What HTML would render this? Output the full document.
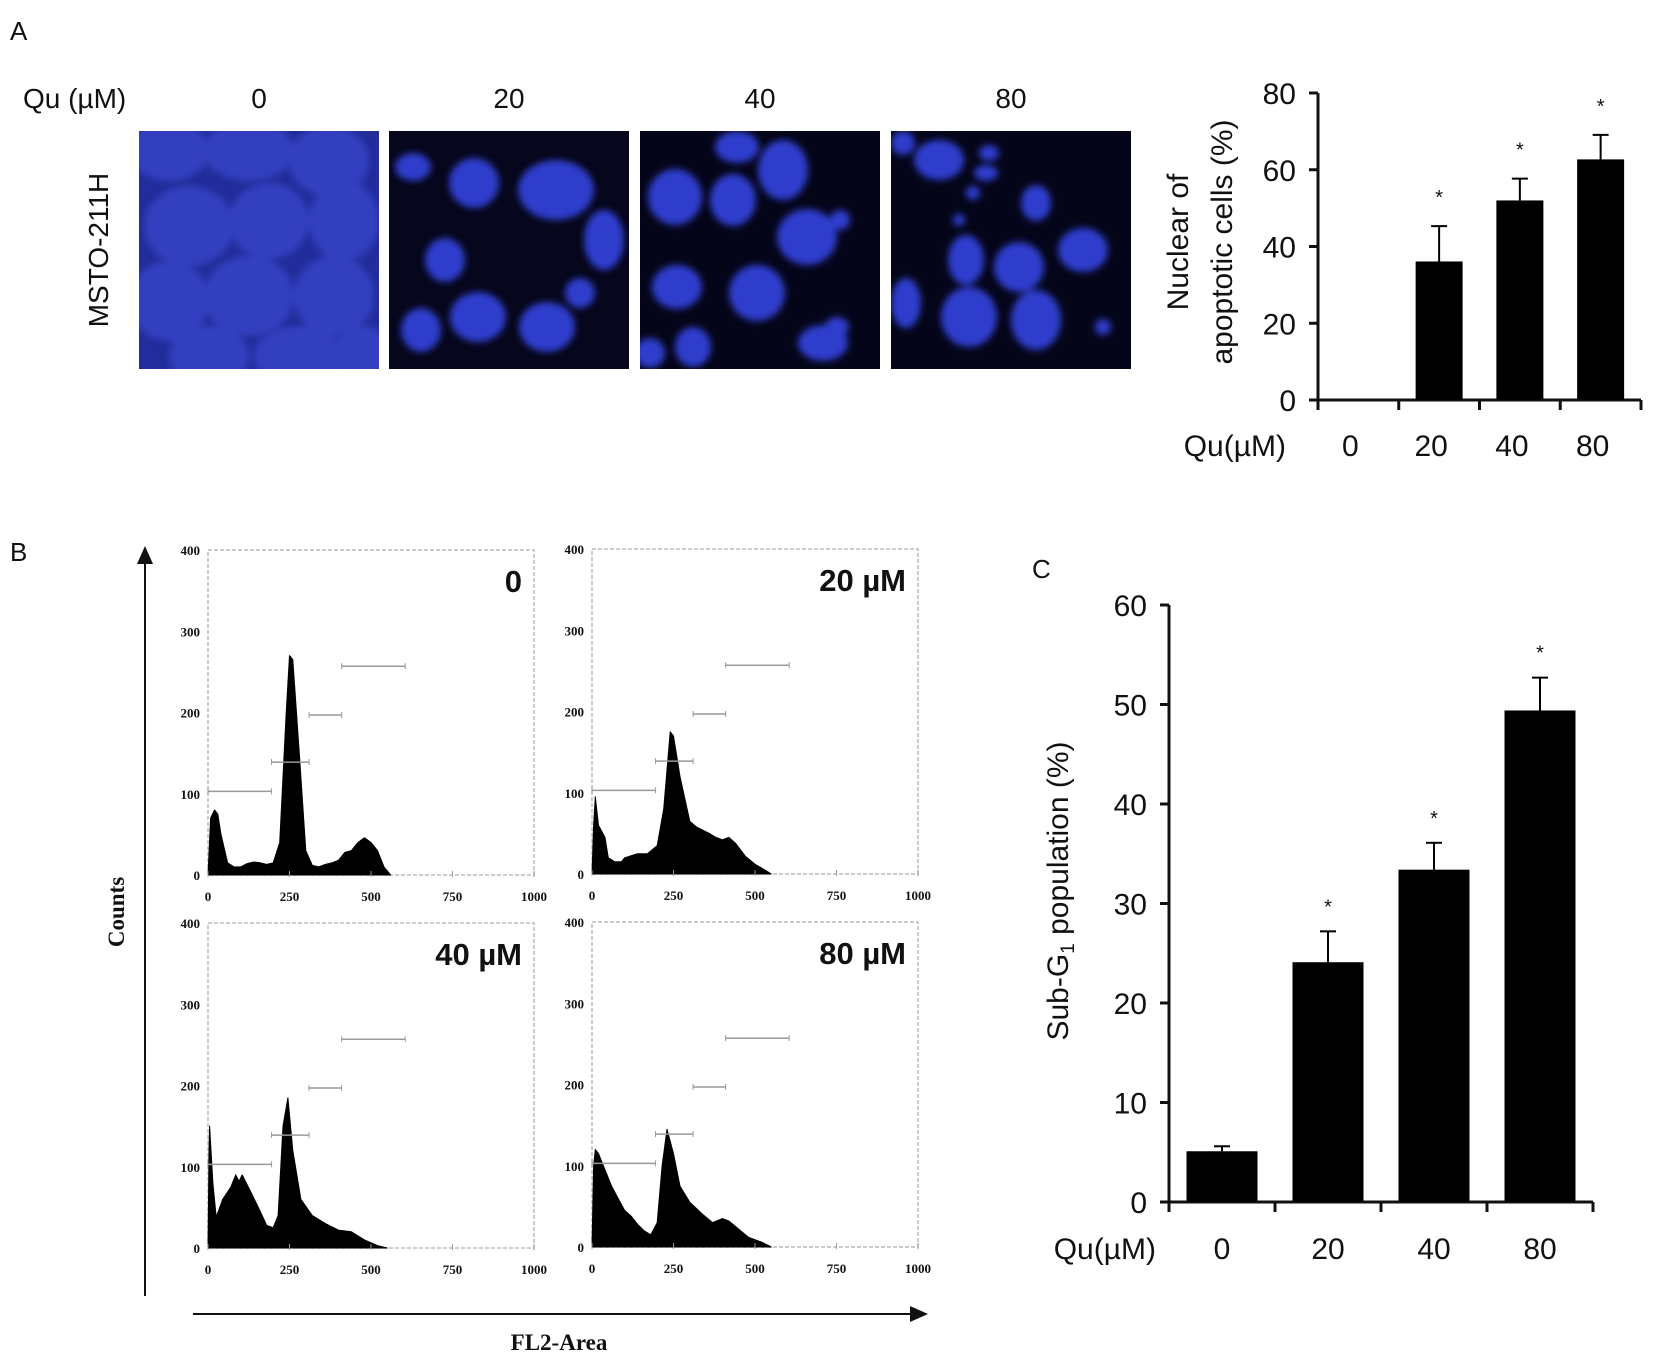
<!DOCTYPE html>
<html><head><meta charset="utf-8"><style>
html,body{margin:0;padding:0;background:#fff;}
svg{display:block;}
text{font-family:"Liberation Sans",Arial,sans-serif;fill:#111;}
.ser{font-family:"Liberation Serif",serif;font-weight:bold;}
</style></head><body>
<svg id="fig" width="1654" height="1366" viewBox="0 0 1654 1366" xmlns="http://www.w3.org/2000/svg">
<defs>
<filter id="blur" x="-20%" y="-20%" width="140%" height="140%"><feGaussianBlur stdDeviation="3.5"/></filter>
<marker id="arr" markerWidth="10" markerHeight="10" refX="8" refY="5" orient="auto"><path d="M0,1 L9,5 L0,9 Z" fill="#111"/></marker>
<clipPath id="c0"><rect x="139" y="131" width="240" height="238"/></clipPath>
<clipPath id="c1"><rect x="389" y="131" width="240" height="238"/></clipPath>
<clipPath id="c2"><rect x="640" y="131" width="240" height="238"/></clipPath>
<clipPath id="c3"><rect x="891" y="131" width="240" height="238"/></clipPath>
</defs>
<text x="10" y="40" font-size="26">A</text>
<text x="10" y="561" font-size="26">B</text>
<text x="1032" y="578" font-size="26">C</text>
<g id="panelA"></g>
<g id="chartA"></g>
<g id="panelB"></g>
<g id="chartC"></g>
</svg>
<script>
// ---- Panel A bar chart data ----
const aCategories = ["0","20","40","80"];
const aValues = [0, 36.1, 52, 62.7];
const aErrors = [0, 9.2, 5.7, 6.4];
const aStars = [false, true, true, true];
const aTicks = [0,20,40,60,80];
// ---- Panel C bar chart data ----
const cCategories = ["0","20","40","80"];
const cValues = [5.1, 24.1, 33.4, 49.4];
const cErrors = [0.5, 3.1, 2.7, 3.3];
const cStars = [false, true, true, true];
const cTicks = [0,10,20,30,40,50,60];
// ---- Panel B histogram data ----
const hLabels = ["0","20 µM","40 µM","80 µM"];
const h0x = [0,8,20,30,40,60,80,100,120,140,160,180,200,220,240,250,260,280,300,320,340,360,380,400,420,440,460,480,500,520,540,560];
const h0y = [0,70,80,75,50,15,10,10,14,16,15,13,15,40,200,270,265,150,30,12,10,13,15,18,28,30,40,46,40,30,10,0];
const h1x = [0,5,10,20,40,50,70,90,100,140,170,200,220,240,250,270,300,320,360,380,400,420,440,470,500,530,550];
const h1y = [0,60,95,60,45,20,15,15,20,25,25,35,80,175,170,120,65,58,50,45,42,45,38,22,12,5,0];
const h2x = [0,3,5,15,25,45,70,85,95,105,130,160,180,200,215,230,245,260,285,320,360,400,440,480,520,550];
const h2y = [0,120,150,80,38,60,75,90,82,90,70,45,28,25,40,150,185,120,60,40,30,22,20,10,3,0];
const h3x = [0,5,10,20,40,60,80,100,120,140,160,180,200,215,230,250,270,300,340,370,400,420,450,480,520,550];
const h3y = [0,100,120,115,95,75,60,45,38,28,20,15,30,100,145,115,75,55,40,30,35,32,22,12,6,0];
const gateStart = [0,195,310,410];
const gateEnd = [195,310,410,605];
const gateLevel = [103,139,197,257];
const hTicksY = [0,100,200,300,400];
const hTicksX = [0,250,500,750,1000];

const NS="http://www.w3.org/2000/svg";
function mk(tag,attrs,parent,txt){const e=document.createElementNS(NS,tag);for(const k in attrs)e.setAttribute(k,attrs[k]);if(txt!==undefined)e.textContent=txt;parent.appendChild(e);return e;}

// ---- Panel A images ----
const gA=document.getElementById('panelA');
const t0=mk('text',{x:23,y:108,'font-size':28},gA,'Qu (µM)');


const imgX=[139,389,640,891], imgW=240, imgY=131, imgH=238;
const imgBg=["#222c9a","#06061c","#05051a","#05051a"];
const cells=[
 [[30,20,40,30],[110,20,45,30],[190,30,40,35],[50,95,45,40],[130,90,40,38],[205,90,35,40],[30,170,40,40],[110,165,45,40],[195,165,40,40],[70,225,40,30],[160,225,45,30],[225,225,30,30]],
 [[24,36,18,14],[85,52,25,25],[167,59,38,30],[215,109,20,30],[56,129,20,22],[191,162,15,15],[89,186,28,25],[32,199,20,22],[158,196,28,25]],
 [[97,16,22,16],[35,66,27,28],[93,69,23,26],[143,39,25,30],[167,106,30,28],[200,89,10,10],[37,156,25,22],[117,162,28,28],[53,216,18,20],[10,222,15,15],[183,212,25,18],[197,196,12,10]],
 [[12,12,12,12],[48,29,25,20],[98,22,10,8],[95,42,12,8],[82,62,7,7],[68,89,6,6],[145,72,15,18],[75,129,18,25],[128,136,25,25],[192,119,25,22],[15,172,15,25],[78,186,28,30],[145,189,25,30],[212,196,8,8]]
];
const concLabels=["0","20","40","80"];
for(let i=0;i<4;i++){
  const g=mk('g',{'clip-path':'url(#c'+i+')'},gA);
  
  
  mk('rect',{x:imgX[i],y:imgY,width:imgW,height:imgH,fill:imgBg[i]},g);
  const cg=mk('g',{filter:'url(#blur)'},g);
  cells[i].forEach(c=>mk('ellipse',{cx:imgX[i]+c[0],cy:imgY+c[1],rx:c[2],ry:c[3],fill:i==0?'#3040c0':'#2f3ecc'},cg));
  const t=mk('text',{x:imgX[i]+imgW/2,y:108,'font-size':28,'text-anchor':'middle'},gA,concLabels[i]);
  
  
}
const cl=mk('text',{x:0,y:0,'font-size':28,'text-anchor':'middle',transform:'translate(108,250) rotate(-90)'},gA,'MSTO-211H');



// ---- generic bar chart ----
function barChart(g,o){
  const yS=v=>o.y0-(v-o.min)/(o.max-o.min)*(o.y0-o.yTop);
  const n=o.cats.length, step=(o.xEnd-o.ax)/n;
  const xC=i=>o.ax+step*(i+0.5);
  mk('line',{x1:o.ax,y1:o.yTop,x2:o.ax,y2:o.y0,stroke:'#111','stroke-width':3},g);
  mk('line',{x1:o.ax,y1:o.y0,x2:o.xEnd,y2:o.y0,stroke:'#111','stroke-width':3},g);
  o.ticks.forEach(t=>{
    mk('line',{x1:o.ax-9,y1:yS(t),x2:o.ax,y2:yS(t),stroke:'#111','stroke-width':3},g);
    const tl=mk('text',{x:o.ax-22,y:yS(t)+11,'font-size':o.fs,'text-anchor':'end'},g,String(t));
    
    
  });
  for(let i=0;i<=n;i++) mk('line',{x1:o.ax+step*i,y1:o.y0,x2:o.ax+step*i,y2:o.y0+10,stroke:'#111','stroke-width':3},g);
  o.cats.forEach((c,i)=>{
    const bx=xC(i)+o.off-o.bw/2;
    if(o.vals[i]>0){
      const b=mk('rect',{x:bx,y:yS(o.vals[i]),width:o.bw,height:o.y0-yS(o.vals[i]),fill:'#000'},g);
      
      
      const cx=xC(i)+o.off, et=yS(o.vals[i]+o.errs[i]);
      mk('line',{x1:cx,y1:yS(o.vals[i]),x2:cx,y2:et,stroke:'#000','stroke-width':2},g);
      mk('line',{x1:cx-8,y1:et,x2:cx+8,y2:et,stroke:'#000','stroke-width':2},g);
      if(o.stars[i]){
        const s=mk('text',{x:cx,y:et-o.starGap,'font-size':20,'text-anchor':'middle',fill:'#333'},g,'*');
        
        
      }
    }
    const xl=mk('text',{x:xC(i)+o.labOff,y:o.labY,'font-size':o.fs,'text-anchor':'middle'},g,c);
    
    
  });
  const q=mk('text',{x:o.quX,y:o.labY,'font-size':o.fs,'text-anchor':'end'},g,'Qu(µM)');
  
  
}
const gAc=document.getElementById('chartA');
barChart(gAc,{cats:aCategories,vals:aValues,errs:aErrors,stars:aStars,ticks:aTicks,min:0,max:80,
  ax:1318,xEnd:1641,y0:400,yTop:93,bw:47,off:0,fs:30,labY:456,labOff:-8,quX:1286,starGap:22});
[['Nuclear of',1188],['apoptotic cells (%)',1232]].forEach(([s,x])=>{
  const t=mk('text',{x:0,y:0,'font-size':30,'text-anchor':'middle',transform:'translate('+x+',242) rotate(-90)'},gAc,s);
  
  
});
const gCc=document.getElementById('chartC');
barChart(gCc,{cats:cCategories,vals:cValues,errs:cErrors,stars:cStars,ticks:cTicks,min:0,max:60,
  ax:1169,xEnd:1593,y0:1202,yTop:605,bw:71,off:0,fs:30,labY:1259,labOff:0,quX:1156,starGap:18});
const ct=mk('text',{x:0,y:0,'font-size':30,'text-anchor':'middle',transform:'translate(1068,891) rotate(-90)'},gCc);


ct.innerHTML='Sub-G<tspan font-size="19" dy="6">1</tspan><tspan dy="-6"> population (%)</tspan>';

// ---- Panel B histograms ----
const gB=document.getElementById('panelB');
const boxes=[[208,550],[592,549],[208,923],[592,922]];
const bw=326,bh=325;
const hx=[h0x,h1x,h2x,h3x], hy=[h0y,h1y,h2y,h3y];
for(let k=0;k<4;k++){
  const [bx,by]=boxes[k];
  const X=v=>bx+v/1000*bw, Y=v=>by+bh-v/400*bh;
  const g=mk('g',{},gB);
  
  
  mk('rect',{x:bx,y:by,width:bw,height:bh,fill:'none',stroke:'#bbb','stroke-width':1.5,'stroke-dasharray':'4 2'},g);
  let d='M'+X(hx[k][0])+','+Y(0);
  hx[k].forEach((v,i)=>{d+=' L'+X(v).toFixed(1)+','+Y(hy[k][i]).toFixed(1);});
  d+=' L'+X(hx[k][hx[k].length-1])+','+Y(0)+' Z';
  const p=mk('path',{d:d,fill:'#000',stroke:'#000','stroke-width':1,'stroke-linejoin':'round'},g);
  
  
  gateStart.forEach((s,i)=>{
    const gl=mk('line',{x1:X(s),y1:Y(gateLevel[i]),x2:X(gateEnd[i]),y2:Y(gateLevel[i]),stroke:'#999','stroke-width':1.5},g);
    
    
    mk('line',{x1:X(s),y1:Y(gateLevel[i])-3,x2:X(s),y2:Y(gateLevel[i])+3,stroke:'#999'},g);
    mk('line',{x1:X(gateEnd[i]),y1:Y(gateLevel[i])-3,x2:X(gateEnd[i]),y2:Y(gateLevel[i])+3,stroke:'#999'},g);
  });
  hTicksY.forEach(t=>{const tl=mk('text',{x:bx-8,y:Y(t)+5,'font-size':13,'text-anchor':'end',class:'ser'},g,String(t));
    
    });
  hTicksX.forEach(t=>{const tl=mk('text',{x:X(t),y:by+bh+26,'font-size':13,'text-anchor':'middle',class:'ser'},g,String(t));
    
    
    mk('line',{x1:X(t),y1:by+bh-4,x2:X(t),y2:by+bh+2,stroke:'#999'},g);});
  const lab=mk('text',{x:bx+bw-12,y:by+42,'font-size':31,'font-weight':'bold','text-anchor':'end'},g,hLabels[k]);
  
  
}
const va=mk('line',{x1:145,y1:1296,x2:145,y2:548,stroke:'#111','stroke-width':2,'marker-end':'url(#arr)'},gB);


const ha=mk('line',{x1:193,y1:1314,x2:926,y2:1314,stroke:'#111','stroke-width':2,'marker-end':'url(#arr)'},gB);


const cy=mk('text',{x:0,y:0,'font-size':23,class:'ser','text-anchor':'middle',transform:'translate(124,912) rotate(-90)'},gB,'Counts');


const fx=mk('text',{x:559,y:1350,'font-size':23,class:'ser','text-anchor':'middle'},gB,'FL2-Area');


</script>
</body></html>
